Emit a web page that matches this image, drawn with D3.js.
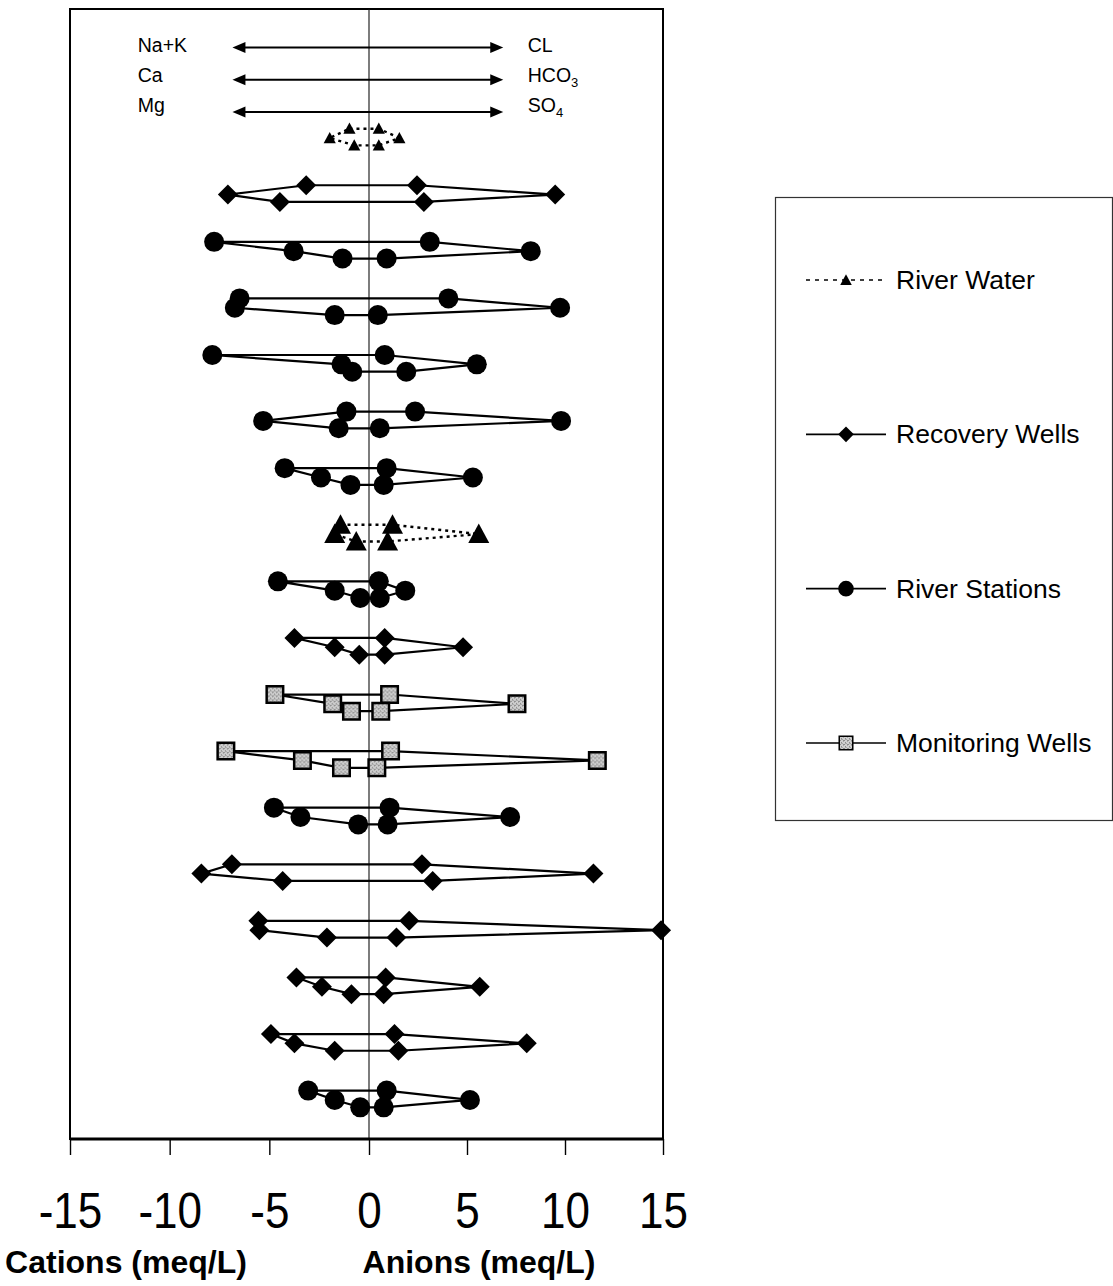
<!DOCTYPE html>
<html>
<head>
<meta charset="utf-8">
<script src="https://cdn.jsdelivr.net/npm/d3@7"></script>
<style>
  body { margin: 0; background: #fff; }
  svg { display: block; }
  text { font-family: "Liberation Sans", Arial, Helvetica, sans-serif; fill: #000; }
</style>
</head>
<body>
<svg id="chart" width="1113" height="1286"></svg>
<script>
// ---- Stiff diagram data (meq/L), one entry per sample, listed top to bottom ----
const sampleType = [
  "River Water", "Recovery Wells", "River Stations", "River Stations", "River Stations",
  "River Stations", "River Stations", "River Water", "River Stations", "Recovery Wells",
  "Monitoring Wells", "Monitoring Wells", "River Stations", "Recovery Wells", "Recovery Wells",
  "Recovery Wells", "Recovery Wells", "River Stations"
];
// cations (plotted to the left of zero)
const naK  = [0.98, 3.15, 7.77, 6.49, 7.86, 1.13, 4.23, 1.43, 4.57, 3.74, 4.72, 7.18, 4.77, 6.88, 5.55, 3.64, 4.92, 3.05];
const ca   = [1.97, 7.08, 3.78, 6.73, 1.38, 5.31, 2.41, 1.72, 1.72, 1.72, 1.82, 3.34, 3.44, 8.41, 5.50, 2.36, 3.74, 1.72];
const mg   = [0.74, 4.47, 1.33, 1.72, 0.84, 1.52, 0.93, 0.64, 0.44, 0.49, 0.88, 1.38, 0.54, 4.33, 2.11, 0.88, 1.72, 0.44];
// anions (plotted to the right of zero)
const cl   = [0.50, 2.45, 3.10, 4.05, 0.80, 2.35, 0.90, 1.20, 0.50, 0.80, 1.05, 1.10, 1.05, 2.70, 2.05, 0.85, 1.30, 0.90];
const hco3 = [1.55, 9.50, 8.25, 9.75, 5.50, 9.80, 5.30, 5.60, 1.85, 4.80, 7.55, 11.65, 7.20, 11.45, 14.90, 5.65, 8.05, 5.15];
const so4  = [0.50, 2.80, 0.90, 0.45, 1.90, 0.55, 0.75, 0.95, 0.55, 0.80, 0.60, 0.40, 0.95, 3.25, 1.40, 0.75, 1.50, 0.75];

const tickValues = [-15, -10, -5, 0, 5, 10, 15];
const cationLabels = ["Na+K", "Ca", "Mg"];
const anionLabels = [["CL", ""], ["HCO", "3"], ["SO", "4"]];
const legendItems = ["River Water", "Recovery Wells", "River Stations", "Monitoring Wells"];
const xTitles = ["Cations (meq/L)", "Anions (meq/L)"];

// ---- layout ----
const plot = { left: 70, right: 663, top: 9, bottom: 1139 };
const svg = d3.select("#chart");

const x = d3.scaleLinear().domain([-15, 0, 15]).range([plot.left, 369, plot.right]);
// vertical position in "row" units: sample i is centred on row i
const y = d3.scaleLinear().domain([-2.28, 17.69]).range([plot.top, plot.bottom]);
const levelOffset = [-0.165, 0, 0.13];    // top / middle / bottom ion pair of each diagram
const headerRow = [-1.6, -1.03, -0.46];   // ion key arrows
const headerTextRow = [-1.52, -0.99, -0.46];
const arrowReach = 6.85;

// grainy grey fill used for the monitoring well squares
const defs = svg.append("defs");
const pat = defs.append("pattern").attr("id", "grain")
  .attr("width", 4).attr("height", 4).attr("patternUnits", "userSpaceOnUse");
pat.append("rect").attr("width", 4).attr("height", 4).attr("fill", "#cfcfcf");
[[0, 0], [2, 1], [1, 2], [3, 3], [3, 0], [1, 1]].forEach(([px, py], k) => {
  pat.append("rect").attr("x", px).attr("y", py).attr("width", 1).attr("height", 1)
    .attr("fill", k % 2 ? "#8c8c8c" : "#a6a6a6");
});

// ---- symbol shapes (size = full width in px) ----
const shapes = {
  diamond: { draw(c, s) { const h = s / 2; c.moveTo(0, -h); c.lineTo(h, 0); c.lineTo(0, h); c.lineTo(-h, 0); c.closePath(); } },
  circle:  { draw(c, s) { const r = s / 2; c.moveTo(r, 0); c.arc(0, 0, r, 0, 2 * Math.PI); } },
  square:  { draw(c, s) { const h = s / 2; c.rect(-h, -h, s, s); } },
  triangle:{ draw(c, s) { const h = s / 2; c.moveTo(0, -h); c.lineTo(h, h * 0.85); c.lineTo(-h, h * 0.85); c.closePath(); } }
};
const typeStyle = {
  "River Water":      { shape: "triangle", size: 21, fill: "#000", stroke: "none", sw: 0, dash: "3,4", lw: 2.4 },
  "Recovery Wells":   { shape: "diamond",  size: 20, fill: "#000", stroke: "none", sw: 0, dash: null, lw: 2.2 },
  "River Stations":   { shape: "circle",   size: 20, fill: "#000", stroke: "none", sw: 0, dash: null, lw: 2.2 },
  "Monitoring Wells": { shape: "square",   size: 16.5, fill: "url(#grain)", stroke: "#000", sw: 2.5, dash: null, lw: 2.2 }
};
const compactRows = new Set([0]);   // first river water sample drawn with small markers

// ---- frame ----
svg.append("rect")
  .attr("x", plot.left).attr("y", plot.top)
  .attr("width", plot.right - plot.left).attr("height", plot.bottom - plot.top)
  .attr("fill", "none").attr("stroke", "#000").attr("stroke-width", 2);

// zero line
svg.append("line")
  .attr("x1", x(0)).attr("x2", x(0)).attr("y1", plot.top).attr("y2", plot.bottom)
  .attr("stroke", "#111").attr("stroke-width", 1.1);

// ---- x axis ----
const axis = svg.append("g").attr("transform", `translate(0,${plot.bottom})`)
  .call(d3.axisBottom(x).tickValues(tickValues).tickSize(16).tickFormat(d3.format("d")));
axis.select(".domain").attr("stroke", "#000").attr("stroke-width", 2.8).attr("d", `M${plot.left},0H${plot.right}`);
axis.selectAll(".tick line").attr("stroke", "#000").attr("stroke-width", 1.4);
axis.selectAll(".tick text")
  .attr("y", 89).attr("dy", 0)
  .attr("transform", "scale(0.88,1)")
  .style("font-family", '"Liberation Sans", Arial, sans-serif')
  .style("font-size", "50px").attr("fill", "#000")
  .text(d => d < 0 ? "-" + Math.abs(d) : d);

svg.selectAll(".xtitle").data(xTitles).join("text")
  .attr("class", "xtitle")
  .attr("x", (d, i) => i === 0 ? 126 : 479)
  .attr("y", 1273)
  .attr("text-anchor", "middle")
  .style("font-size", "32px").style("font-weight", "bold")
  .text(d => d);

// ---- ion key with double-headed arrows ----
const head = 13, headHalf = 5.5;
const key = svg.append("g");
headerRow.forEach((r, i) => {
  const yy = y(r), x0 = x(-arrowReach), x1 = x(arrowReach);
  key.append("line").attr("x1", x0 + head - 2).attr("x2", x1 - head + 2)
    .attr("y1", yy).attr("y2", yy).attr("stroke", "#000").attr("stroke-width", 2);
  key.append("path").attr("d", `M${x0},${yy}L${x0 + head},${yy - headHalf}L${x0 + head},${yy + headHalf}Z`).attr("fill", "#000");
  key.append("path").attr("d", `M${x1},${yy}L${x1 - head},${yy - headHalf}L${x1 - head},${yy + headHalf}Z`).attr("fill", "#000");
});
key.selectAll(".cat").data(cationLabels).join("text")
  .attr("x", x(-11.6)).attr("y", (d, i) => y(headerTextRow[i]))
  .style("font-size", "19.5px").text(d => d);
const an = key.selectAll(".an").data(anionLabels).join("text")
  .attr("x", x(8.1)).attr("y", (d, i) => y(headerTextRow[i]))
  .style("font-size", "19.5px");
an.append("tspan").text(d => d[0]);
an.append("tspan").attr("dy", 5).style("font-size", "13px").text(d => d[1]);

// ---- Stiff polygons ----
const line = d3.line().x(d => x(d[0])).y(d => y(d[1])).curve(d3.curveLinearClosed);
const samples = sampleType.map((t, i) => {
  const [t0, t1, t2] = levelOffset.map(o => i + o);
  return {
    type: t, row: i,
    pts: [[-naK[i], t0], [cl[i], t0], [hco3[i], t1], [so4[i], t2], [-mg[i], t2], [-ca[i], t1]]
  };
});

const g = svg.append("g");
g.selectAll("path.stiff").data(samples).join("path")
  .attr("class", "stiff")
  .attr("d", d => line(d.pts))
  .attr("fill", "none")
  .attr("stroke", "#000")
  .attr("stroke-width", d => typeStyle[d.type].lw)
  .attr("stroke-dasharray", d => typeStyle[d.type].dash)
  .attr("stroke-linejoin", "round");

const symbolFor = (type, scale) => {
  const st = typeStyle[type];
  return d3.symbol().type(shapes[st.shape]).size(st.size * scale)();
};
samples.forEach(s => {
  const st = typeStyle[s.type];
  const k = compactRows.has(s.row) ? 0.58 : 1;
  g.append("g").selectAll("path").data(s.pts).join("path")
    .attr("transform", d => `translate(${x(d[0])},${y(d[1])})`)
    .attr("d", symbolFor(s.type, k))
    .attr("fill", st.fill)
    .attr("stroke", st.stroke)
    .attr("stroke-width", st.sw);
});

// ---- legend ----
const lg = svg.append("g");
lg.append("rect").attr("x", 775.5).attr("y", 197.5).attr("width", 337).attr("height", 623)
  .attr("fill", "#fff").attr("stroke", "#333").attr("stroke-width", 1.2);
const legendY = d3.scalePoint().domain(legendItems).range([280, 743]);
const legendScale = { "River Water": 0.55, "Recovery Wells": 0.78, "River Stations": 0.78, "Monitoring Wells": 0.82 };
legendItems.forEach(name => {
  const st = typeStyle[name];
  const yy = legendY(name);
  lg.append("line").attr("x1", 806).attr("x2", 886).attr("y1", yy).attr("y2", yy)
    .attr("stroke", "#000").attr("stroke-width", 1.6)
    .attr("stroke-dasharray", st.dash ? "4,5" : null);
  lg.append("path").attr("transform", `translate(846,${yy})`)
    .attr("d", symbolFor(name, legendScale[name]))
    .attr("fill", st.fill).attr("stroke", st.stroke).attr("stroke-width", st.sw ? 1.5 : 0);
  lg.append("text").attr("x", 896).attr("y", yy + 9)
    .style("font-size", "26.5px").text(name);
});
</script>
</body>
</html>
